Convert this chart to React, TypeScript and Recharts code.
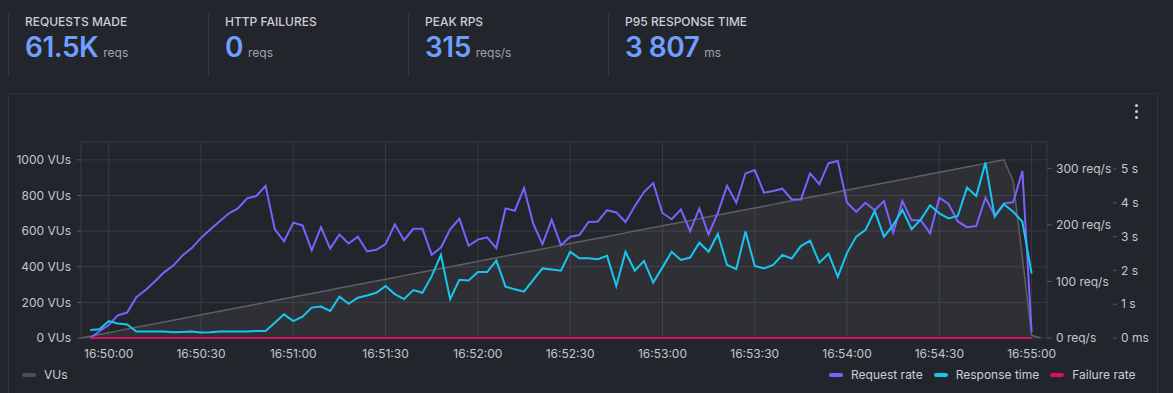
import React from 'react';
import { ComposedChart, Area, Line, XAxis, YAxis, CartesianGrid } from 'recharts';

// samples every 3s, first VU sample at 16:49:51 (t = -9s from 16:50:00)
const START = -9;
const STEP = 3;

const vus = [
  0, 10, 20, 30, 40, 50, 60, 70, 80, 90,
  100, 110, 120, 130, 140, 150, 160, 170, 180, 190,
  200, 210, 220, 230, 240, 250, 260, 270, 280, 290,
  300, 310, 320, 330, 340, 350, 360, 370, 380, 390,
  400, 410, 420, 430, 440, 450, 460, 470, 480, 490,
  500, 510, 520, 530, 540, 550, 560, 570, 580, 590,
  600, 610, 620, 630, 640, 650, 660, 670, 680, 690,
  700, 710, 720, 730, 740, 750, 760, 770, 780, 790,
  800, 810, 820, 830, 840, 850, 860, 870, 880, 890,
  900, 910, 920, 930, 940, 950, 960, 970, 980, 990,
  1000, 880, 450, 15, 0,
];

// req/s, starts one sample after the VU series
const requestRate = [
  0, 12, 23, 40, 45, 72, 85, 100, 116, 128,
  146, 159, 177, 192, 206, 220, 229, 247, 251, 269,
  192, 171, 204, 199, 155, 196, 158, 183, 167, 179,
  153, 156, 166, 201, 173, 193, 193, 147, 160, 192,
  211, 163, 174, 178, 159, 229, 225, 265, 202, 166,
  209, 164, 179, 182, 205, 206, 226, 222, 205, 233,
  258, 274, 221, 210, 227, 189, 229, 183, 221, 269,
  239, 291, 297, 257, 260, 264, 245, 245, 291, 272,
  309, 313, 239, 223, 239, 226, 242, 186, 242, 208,
  208, 185, 248, 237, 206, 196, 198, 248, 217, 238,
  240, 295, 10,
];

// seconds
const responseTime = [
  0.24, 0.26, 0.5, 0.43, 0.4, 0.19, 0.19, 0.19, 0.19, 0.17,
  0.18, 0.19, 0.16, 0.17, 0.19, 0.19, 0.19, 0.19, 0.21, 0.21,
  0.45, 0.7, 0.5, 0.63, 0.9, 0.93, 0.8, 1.22, 1.01, 1.19,
  1.26, 1.34, 1.54, 1.3, 1.15, 1.42, 1.34, 1.83, 2.46, 1.15,
  1.72, 1.7, 1.95, 1.95, 2.29, 1.52, 1.44, 1.37, 1.72, 2.06,
  2.03, 1.99, 2.55, 2.36, 2.36, 2.33, 2.43, 1.54, 2.55, 1.99,
  2.28, 1.64, 2.09, 2.55, 2.31, 2.38, 2.82, 2.55, 3.08, 2.16,
  2.04, 3.15, 2.13, 2.06, 2.16, 2.46, 2.35, 2.72, 2.88, 2.23,
  2.49, 1.81, 2.52, 3.0, 3.2, 3.76, 3.0, 3.34, 3.79, 3.22,
  3.51, 3.93, 3.69, 3.54, 3.61, 4.45, 4.2, 5.19, 3.59, 3.96,
  3.74, 3.44, 1.91,
];

const failureRate = [
  0, 0, 0, 0, 0, 0, 0, 0, 0, 0, 0, 0, 0, 0, 0, 0, 0, 0, 0, 0,
  0, 0, 0, 0, 0, 0, 0, 0, 0, 0, 0, 0, 0, 0, 0, 0, 0, 0, 0, 0,
  0, 0, 0, 0, 0, 0, 0, 0, 0, 0, 0, 0, 0, 0, 0, 0, 0, 0, 0, 0,
  0, 0, 0, 0, 0, 0, 0, 0, 0, 0, 0, 0, 0, 0, 0, 0, 0, 0, 0, 0,
  0, 0, 0, 0, 0, 0, 0, 0, 0, 0, 0, 0, 0, 0, 0, 0, 0, 0, 0, 0,
  0, 0, 0,
];

const tickSeconds = [0, 30, 60, 90, 120, 150, 180, 210, 240, 270, 300];
const tickLabels = [
  '16:50:00', '16:50:30', '16:51:00', '16:51:30', '16:52:00', '16:52:30',
  '16:53:00', '16:53:30', '16:54:00', '16:54:30', '16:55:00',
];

const vuTicks = [0, 200, 400, 600, 800, 1000];
const rpsTicks = [0, 100, 200, 300];
const rtTicks = [0, 1, 2, 3, 4, 5];

const stats = [
  { label: 'REQUESTS MADE', value: '61.5K', unit: 'reqs' },
  { label: 'HTTP FAILURES', value: '0', unit: 'reqs' },
  { label: 'PEAK RPS', value: '315', unit: 'reqs/s' },
  { label: 'P95 RESPONSE TIME', value: '3 807', unit: 'ms' },
];

const BG = '#22252b';
const TEXT = '#ccccdc';
const AXIS_TEXT = '#c4c6cf';
const GRID = '#383b42';
const FONT = 'Inter, "Noto Sans", sans-serif';

const C_VUS = '#5e5f64';
const C_REQ = '#7b61ff';
const C_RT = '#19c6f0';
const C_FAIL = '#d5135e';

const rows = vus.map((v, k) => ({
  t: START + STEP * k,
  vus: v,
  requests: k >= 1 && k <= requestRate.length ? requestRate[k - 1] : null,
  response: k >= 1 && k <= responseTime.length ? responseTime[k - 1] : null,
  failures: k >= 1 && k <= failureRate.length ? failureRate[k - 1] : null,
}));

function timeLabel(v: number) {
  const i = tickSeconds.indexOf(v);
  return i >= 0 ? tickLabels[i] : '';
}

const tickStyle = { fontSize: 12, fill: AXIS_TEXT, fontFamily: FONT };

function Swatch({ color }: { color: string }) {
  return <span style={{ display: 'inline-block', width: 14, height: 4, borderRadius: 2, background: color }} />;
}

export default function App() {
  return (
    <div
      style={{
        position: 'fixed', left: 0, top: 0, width: 1173, height: 393,
        background: BG, overflow: 'hidden', fontFamily: FONT, color: TEXT,
      }}
    >
      {stats.map((s, i) => (
        <div key={s.label} style={{ position: 'absolute', left: 8 + i * 200, top: 13, width: 200, height: 64 }}>
          <div style={{ position: 'absolute', left: 0, top: 0, width: 1, height: 64, background: '#363940' }} />
          <div style={{ position: 'absolute', left: 17, top: 1, fontSize: 12, lineHeight: '15px', fontWeight: 500, color: TEXT }}>
            {s.label}
          </div>
          <div style={{ position: 'absolute', left: 17, top: 20, display: 'flex', alignItems: 'baseline', whiteSpace: 'nowrap' }}>
            <span style={{ fontSize: 28, lineHeight: '28px', fontWeight: 600, color: '#6e9fff', letterSpacing: -0.5 }}>{s.value}</span>
            <span style={{ fontSize: 12, marginLeft: 5, color: '#9ea3ad' }}>{s.unit}</span>
          </div>
        </div>
      ))}

      <div
        style={{
          position: 'absolute', left: 8, top: 93, width: 1148, height: 320,
          border: '1px solid #30333a', borderRadius: 2,
        }}
      />
      {[0, 1, 2].map((d) => (
        <div key={d} style={{ position: 'absolute', left: 1135, top: 104 + d * 6, width: 3, height: 3, borderRadius: 2, background: TEXT }} />
      ))}

      <div style={{ position: 'absolute', left: 0, top: 0 }}>
        <ComposedChart width={1173} height={393} data={rows} margin={{ top: 142, right: 10, bottom: 0, left: 0 }}>
          <CartesianGrid yAxisId="vus" stroke={GRID} strokeWidth={1} />
          <XAxis
            dataKey="t"
            type="number"
            domain={[-9, 305]}
            ticks={tickSeconds}
            tickFormatter={timeLabel}
            allowDataOverflow
            height={55}
            tickSize={0}
            tickMargin={11}
            tickLine={false}
            axisLine={false}
            tick={tickStyle}
            interval={0}
          />
          <YAxis
            yAxisId="vus"
            orientation="left"
            width={81}
            domain={[0, 1100]}
            ticks={vuTicks}
            tickFormatter={(v: number) => `${v} VUs`}
            axisLine={false}
            tickSize={4}
            tickMargin={6}
            tickLine={{ stroke: '#555860' }}
            tick={tickStyle}
            interval={0}
          />
          <YAxis
            yAxisId="rps"
            orientation="right"
            width={66}
            domain={[0, 346.5]}
            ticks={rpsTicks}
            tickFormatter={(v: number) => `${v} req/s`}
            axisLine={false}
            tickSize={5}
            tickMargin={4}
            tickLine={{ stroke: '#555860' }}
            tick={tickStyle}
            interval={0}
          />
          <YAxis
            yAxisId="rt"
            orientation="right"
            width={50}
            domain={[0, 5.8]}
            ticks={rtTicks}
            tickFormatter={(v: number) => (v === 0 ? '0 ms' : `${v} s`)}
            axisLine={false}
            tickSize={4}
            tickMargin={4}
            tickLine={{ stroke: '#555860' }}
            tick={tickStyle}
            interval={0}
          />
          <Area
            yAxisId="vus"
            type="linear"
            dataKey="vus"
            stroke={C_VUS}
            strokeWidth={1.5}
            fill="#ffffff"
            fillOpacity={0.055}
            dot={false}
            activeDot={false}
            isAnimationActive={false}
          />
          <Line yAxisId="rps" type="linear" dataKey="requests" stroke={C_REQ} strokeWidth={2} dot={false} activeDot={false} isAnimationActive={false} />
          <Line yAxisId="rt" type="linear" dataKey="response" stroke={C_RT} strokeWidth={2} dot={false} activeDot={false} isAnimationActive={false} />
          <Line yAxisId="rps" type="linear" dataKey="failures" stroke={C_FAIL} strokeWidth={2} dot={false} activeDot={false} isAnimationActive={false} />
        </ComposedChart>
      </div>

      <div style={{ position: 'absolute', left: 22, top: 367, display: 'flex', alignItems: 'center', gap: 8, fontSize: 12, lineHeight: '15px' }}>
        <Swatch color="#4d4f55" />
        <span>VUs</span>
      </div>
      <div style={{ position: 'absolute', left: 829, top: 367, display: 'flex', alignItems: 'center', fontSize: 12, lineHeight: '15px', whiteSpace: 'nowrap' }}>
        <Swatch color={C_REQ} />
        <span style={{ marginLeft: 8, marginRight: 11 }}>Request rate</span>
        <Swatch color={C_RT} />
        <span style={{ marginLeft: 8, marginRight: 11 }}>Response time</span>
        <Swatch color={C_FAIL} />
        <span style={{ marginLeft: 8 }}>Failure rate</span>
      </div>
    </div>
  );
}
